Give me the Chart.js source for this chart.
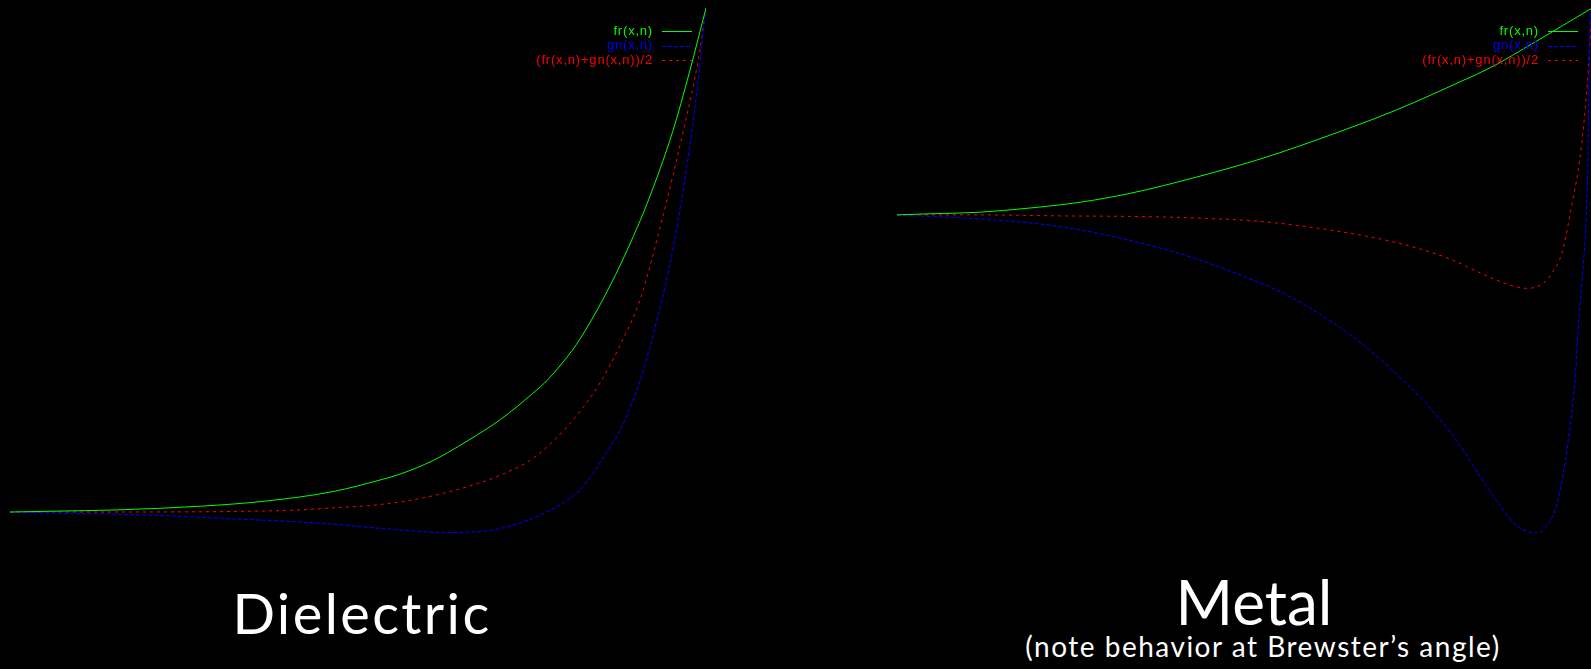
<!DOCTYPE html>
<html>
<head>
<meta charset="utf-8">
<script src="https://cdn.jsdelivr.net/npm/chart.js@4.4.1/dist/chart.umd.min.js"></script>
<style>
  html, body { margin: 0; background: #000; width: 1591px; height: 669px; overflow: hidden; }
  canvas { position: absolute; }
  #dielectric { left: 10px; top: 8px; }
  #metal { left: 897px; top: 8px; }
  .title { position: absolute; color: #fff; font-family: Lato, "Open Sans", sans-serif; line-height: 1; text-align: center; white-space: nowrap; }
</style>
</head>
<body>
<canvas id="dielectric" width="696" height="525"></canvas>
<canvas id="metal" width="695" height="525"></canvas>
<div class="title" style="left:162px;width:400px;top:585px;font-size:56px;letter-spacing:2.4px">Dielectric</div>
<div class="title" style="left:1054px;width:400px;top:570px;font-size:62px">Metal</div>
<div class="title" style="left:963px;width:600px;top:632px;font-size:28px;letter-spacing:1.5px">(note behavior at Brewster’s angle)</div>
<script>
// legend labels
const LABELS = ["fr(x,n)", "gn(x,n)", "(fr(x,n)+gn(x,n))/2"];

// dielectric — incidence angle (deg) / value
const dielFrAngle = [0, 7.4, 13.8, 24.6, 33.2, 41.8, 48.1, 50.4, 54.7, 59.1, 63.4, 67.6, 69.6, 72.8, 74.4, 76.6, 78.9, 80.6, 82.4, 85.7, 87.9, 90];
const dielFrValue = [0.040, 0.042, 0.044, 0.051, 0.061, 0.079, 0.102, 0.112, 0.138, 0.175, 0.216, 0.266, 0.293, 0.350, 0.386, 0.443, 0.510, 0.565, 0.628, 0.765, 0.880, 1.000];

const dielGnAngle = [0, 6.1, 13.8, 21.6, 28.8, 37.5, 41.8, 46.2, 50.4, 56.3, 60.8, 62.1, 65.6, 68.5, 71.5, 73.7, 75.4, 77.2, 78.9, 80.2, 81.5, 84.4, 85.7, 87.5, 88.9, 89.8, 90];
const dielGnValue = [0.040, 0.038, 0.036, 0.032, 0.027, 0.021, 0.017, 0.011, 0.006, 0.001, 0.003, 0.005, 0.017, 0.034, 0.057, 0.082, 0.114, 0.155, 0.196, 0.240, 0.291, 0.450, 0.539, 0.697, 0.850, 0.977, 1.000];

const dielAvgAngle = [0, 11.6, 28.8, 37.5, 41.8, 46.2, 50.4, 54.7, 59.1, 63.4, 67.6, 72.0, 76.3, 78.9, 81.5, 84.4, 87.0, 89.0, 90];
const dielAvgValue = [0.040, 0.040, 0.041, 0.044, 0.048, 0.052, 0.059, 0.071, 0.088, 0.110, 0.142, 0.202, 0.286, 0.358, 0.446, 0.602, 0.762, 0.901, 1.000];

// metal
const metalFrAngle = [0, 4.3, 10.7, 17.2, 23.7, 30.2, 38.8, 47.4, 56.1, 64.7, 73.3, 76.8, 82.6, 90];
const metalFrValue = [0.606, 0.608, 0.611, 0.619, 0.630, 0.647, 0.678, 0.714, 0.758, 0.806, 0.862, 0.886, 0.935, 1.000];

const metalGnAngle = [0, 10.7, 19.4, 26.3, 35.0, 38.8, 43.5, 47.4, 50.9, 56.5, 60.9, 65.1, 69.4, 72.9, 75.9, 78.2, 80.3, 82.9, 84.2, 85.5, 86.5, 87.1, 87.8, 88.2, 88.7, 89.1, 89.4, 89.8, 90];
const metalGnValue = [0.606, 0.598, 0.587, 0.570, 0.539, 0.522, 0.497, 0.474, 0.450, 0.400, 0.352, 0.297, 0.232, 0.167, 0.099, 0.050, 0.013, 0.000, 0.015, 0.057, 0.133, 0.196, 0.291, 0.387, 0.482, 0.558, 0.667, 0.983, 1.000];

const metalAvgAngle = [0, 10.7, 21.1, 30.2, 38.8, 47.4, 56.1, 64.7, 71.6, 75.9, 79.0, 81.6, 83.7, 84.9, 86.1, 87.5, 88.4, 89.4, 90];
const metalAvgValue = [0.606, 0.606, 0.604, 0.603, 0.600, 0.593, 0.577, 0.553, 0.522, 0.493, 0.474, 0.466, 0.476, 0.497, 0.533, 0.634, 0.710, 0.857, 1.000];

const COLORS = ["#00ff00", "#0000ff", "#ff0000"];
const DASHES = [[], [4, 2], [3, 4]];

function pts(xs, ys) {
  return xs.map((x, i) => ({x: x, y: ys[i]}));
}

// gnuplot-style key drawn inside the plot, top right
const insideKey = {
  id: 'insideKey',
  afterDraw(chart) {
    const ctx = chart.ctx, a = chart.chartArea;
    ctx.save();
    ctx.font = '13px "Liberation Sans", Arial, sans-serif';
    ctx.letterSpacing = '0.8px';
    ctx.textAlign = 'right';
    ctx.textBaseline = 'middle';
    chart.data.datasets.forEach((ds, i) => {
      const y = a.top + 23 + i * 14.5;
      ctx.fillStyle = ds.borderColor;
      ctx.fillText(ds.label, a.right - 53, y);
      ctx.strokeStyle = ds.borderColor;
      ctx.lineWidth = 1;
      ctx.setLineDash(ds.borderDash || []);
      ctx.beginPath();
      ctx.moveTo(a.right - 44, Math.round(y) + 0.5);
      ctx.lineTo(a.right - 14, Math.round(y) + 0.5);
      ctx.stroke();
    });
    ctx.restore();
  }
};

function makeChart(id, series) {
  return new Chart(document.getElementById(id), {
    type: 'line',
    data: {
      datasets: series.map((s, i) => ({
        label: LABELS[i],
        data: s,
        borderColor: COLORS[i],
        borderDash: DASHES[i],
        borderWidth: 1,
        pointRadius: 0,
        cubicInterpolationMode: 'monotone',
        clip: false
      }))
    },
    options: {
      responsive: false,
      animation: false,
      layout: {padding: 0},
      plugins: {legend: {display: false}, tooltip: {enabled: false}},
      scales: {
        x: {type: 'linear', min: 0, max: 90, display: false},
        y: {min: 0, max: 1, display: false}
      }
    },
    plugins: [insideKey]
  });
}

makeChart('dielectric', [pts(dielFrAngle, dielFrValue), pts(dielGnAngle, dielGnValue), pts(dielAvgAngle, dielAvgValue)]);
makeChart('metal', [pts(metalFrAngle, metalFrValue), pts(metalGnAngle, metalGnValue), pts(metalAvgAngle, metalAvgValue)]);
</script>
</body>
</html>
